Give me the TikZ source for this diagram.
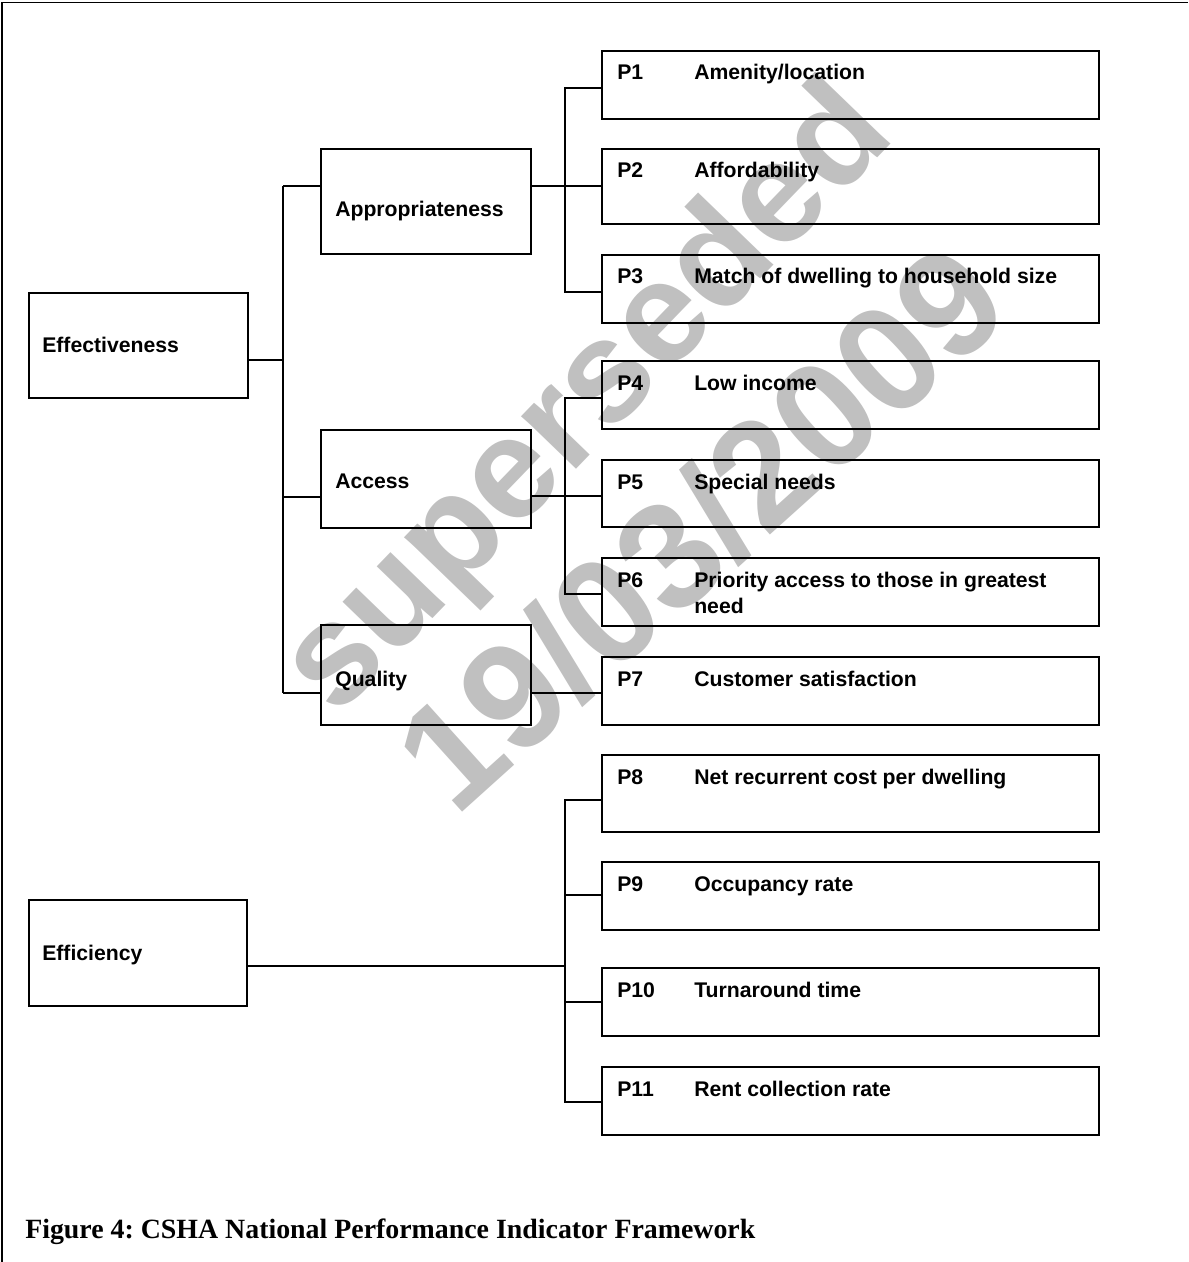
\documentclass[tikz,border=0pt]{standalone}
\usepackage{fontspec}
\setmainfont{Liberation Sans}
\newfontfamily\capfont{Liberation Serif}
\definecolor{wmgray}{HTML}{C0C0C0}
\begin{document}
\frenchspacing
\begin{tikzpicture}[x=0.75pt,y=-0.75pt,
  box/.style={draw=black, line width=1.3pt, inner sep=0pt, anchor=north west},
  pbox/.style={box, minimum width={497*0.75pt}},
  lbl/.style={anchor=base west, inner sep=0pt, font=\fontsize{15.9}{18}\selectfont\bfseries},
  conn/.style={line width=1.3pt},
  wm/.style={text=wmgray, font=\fontsize{108}{120}\selectfont\bfseries, inner sep=0pt}
]
\useasboundingbox (0,0) rectangle (1188,1262);
% watermark
\node[wm, rotate=46] (wm1) at (590,402) {superseded};
\node[wm, rotate=42, font=\fontsize{113}{120}\selectfont\bfseries] (wm2) at (700,527) {19/03/2009};
% frame
\draw[conn] (2,1262) -- (2,2.5) -- (1188,2.5);
% level 1
\node[box, minimum width={219*0.75pt}, minimum height={105*0.75pt}] (Eff) at (28,292) {};
\node[box, minimum width={218*0.75pt}, minimum height={106*0.75pt}] (Effi) at (28,899) {};
% level 2
\node[box, minimum width={210*0.75pt}, minimum height={105*0.75pt}] (App) at (320,148) {};
\node[box, minimum width={210*0.75pt}, minimum height={98*0.75pt}] (Acc) at (320,429) {};
\node[box, minimum width={210*0.75pt}, minimum height={100*0.75pt}] (Qua) at (320,624) {};
% indicators
\node[pbox, minimum height={68*0.75pt}] (P1) at (601,50) {};
\node[pbox, minimum height={75*0.75pt}] (P2) at (601,148) {};
\node[pbox, minimum height={68*0.75pt}] (P3) at (601,254) {};
\node[pbox, minimum height={68*0.75pt}] (P4) at (601,360) {};
\node[pbox, minimum height={67*0.75pt}] (P5) at (601,459) {};
\node[pbox, minimum height={68*0.75pt}] (P6) at (601,557) {};
\node[pbox, minimum height={68*0.75pt}] (P7) at (601,656) {};
\node[pbox, minimum height={77*0.75pt}] (P8) at (601,754) {};
\node[pbox, minimum height={68*0.75pt}] (P9) at (601,861) {};
\node[pbox, minimum height={68*0.75pt}] (P10) at (601,967) {};
\node[pbox, minimum height={68*0.75pt}] (P11) at (601,1066) {};
% texts
\node[lbl] (tEff) at (42,352) {Effectiveness};
\node[lbl] (tEffi) at (42,960) {Efficiency};
\node[lbl] (tApp) at (335,217) {Appropriateness};
\node[lbl] (tAcc) at (335,488) {Access};
\node[lbl] (tQua) at (335,686) {Quality};
\foreach \n/\y/\t in {1/80/Amenity\slash location, 2/178/Affordability, 3/284/Match of dwelling to household size,
  4/390/Low income, 5/489/Special needs, 6/587/Priority access to those in greatest, 7/686/Customer satisfaction,
  8/784/Net recurrent cost per dwelling, 9/891/Occupancy rate, 10/997/Turnaround time, 11/1096/Rent collection rate}{
  \node[lbl] (c\n) at (617,\y) {P\n};
  \node[lbl] (d\n) at (694,\y) {\t};
}
\node[lbl] (d6b) at (694,613) {need};
% connectors level 1
\coordinate (bA) at (283,186);
\coordinate (bE) at (283,360);
\coordinate (bC) at (283,497);
\coordinate (bQ) at (283,693);
\draw[conn] (bA) -- (bQ);
\draw[conn] (Eff.east |- bE) -- (bE);
\draw[conn] (bA) -- (App.west |- bA);
\draw[conn] (bC) -- (Acc.west |- bC);
\draw[conn] (bQ) -- (Qua.west |- bQ);
% appropriateness group
\coordinate (a1) at (565,88);
\coordinate (a2) at (565,186);
\coordinate (a3) at (565,292);
\draw[conn] (P1.west |- a1) -- (a1) -- (a3) -- (P3.west |- a3);
\draw[conn] (App.east |- a2) -- (P2.west |- a2);
% access group
\coordinate (c1) at (565,398);
\coordinate (c2) at (565,496);
\coordinate (c3) at (565,594);
\draw[conn] (P4.west |- c1) -- (c1) -- (c3) -- (P6.west |- c3);
\draw[conn] (Acc.east |- c2) -- (P5.west |- c2);
% quality
\coordinate (q1) at (565,693);
\draw[conn] (Qua.east |- q1) -- (P7.west |- q1);
% efficiency group
\coordinate (e1) at (565,800);
\coordinate (e2) at (565,895);
\coordinate (e3) at (565,1002);
\coordinate (e4) at (565,1102);
\coordinate (eh) at (565,966);
\draw[conn] (P8.west |- e1) -- (e1) -- (e4) -- (P11.west |- e4);
\draw[conn] (e2) -- (P9.west |- e2);
\draw[conn] (e3) -- (P10.west |- e3);
\draw[conn] (Effi.east |- eh) -- (eh);
% caption
\node[anchor=base west, inner sep=0pt, font=\capfont\bfseries\fontsize{20.9}{24}\selectfont] (cap) at (25,1238) {Figure 4: CSHA National Performance Indicator Framework};
\end{tikzpicture}
\end{document}
